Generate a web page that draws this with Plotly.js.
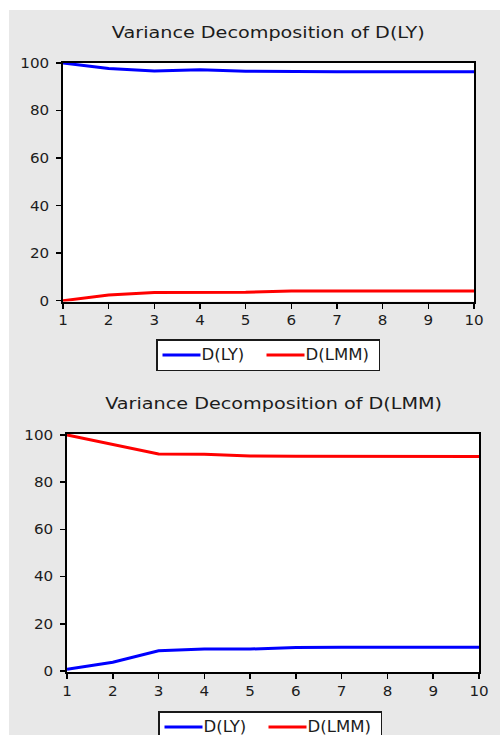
<!DOCTYPE html>
<html>
<head>
<meta charset="utf-8">
<script src="https://cdn.plot.ly/plotly-3.0.1.min.js"></script>
<style>
  html, body { margin: 0; padding: 0; background: #ffffff; }
  #bg { position: absolute; left: 9px; top: 10px; width: 491px; height: 725px; background: #e8e8e8; }
  #chart { position: absolute; left: 0; top: 0; width: 500px; height: 735px; }
  #chart .legendtext, #chart .legend2text {
    transform-box: fill-box;
    transform-origin: 0 50%;
    transform: translate(-4px, -1px) scale(1.38, 1.3);
  }
</style>
</head>
<body>
<div id="bg"></div>
<div id="chart"></div>
<script>
// Periods
var periods = [1, 2, 3, 4, 5, 6, 7, 8, 9, 10];
var xTickLabels = ["1", "2", "3", "4", "5", "6", "7", "8", "9", "10"];
var yTickVals = [0, 20, 40, 60, 80, 100];

// Variance Decomposition of D(LY)
var ly_shock_LY  = [100, 97.7, 96.6, 97.2, 96.5, 96.3, 96.3, 96.3, 96.3, 96.3];
var ly_shock_LMM = [0, 2.4, 3.4, 3.4, 3.5, 4.1, 4.1, 4.1, 4.1, 4.1];

// Variance Decomposition of D(LMM)
var lmm_shock_LY  = [0.7, 3.7, 8.6, 9.3, 9.3, 10.0, 10.1, 10.1, 10.1, 10.1];
var lmm_shock_LMM = [100, 95.8, 91.9, 91.8, 91.1, 91.0, 91.0, 91.0, 90.9, 90.9];

var seriesNames = ["D(LY)", "D(LMM)"];
var titles = ["Variance Decomposition of D(LY)", "Variance Decomposition of D(LMM)"];

var BLUE = "#0000ff", RED = "#ff0000";
var W = 500, H = 735;
var FONT = "DejaVu Sans, Verdana, sans-serif";
var TXT = "#1c1c1c";

var traces = [
  {x: periods, y: ly_shock_LY, name: seriesNames[0], type: "scatter", mode: "lines",
   line: {color: BLUE, width: 3}, xaxis: "x", yaxis: "y", legend: "legend", legendwidth: 51},
  {x: periods, y: ly_shock_LMM, name: seriesNames[1], type: "scatter", mode: "lines",
   line: {color: RED, width: 3}, xaxis: "x", yaxis: "y", legend: "legend", legendwidth: 64},
  {x: periods, y: lmm_shock_LY, name: seriesNames[0], type: "scatter", mode: "lines",
   line: {color: BLUE, width: 3}, xaxis: "x2", yaxis: "y2", legend: "legend2", legendwidth: 51},
  {x: periods, y: lmm_shock_LMM, name: seriesNames[1], type: "scatter", mode: "lines",
   line: {color: RED, width: 3}, xaxis: "x2", yaxis: "y2", legend: "legend2", legendwidth: 64}
];

var tickFont = {family: FONT, size: 14, color: TXT};

function xAxis(domain, anchor) {
  return {
    domain: domain, anchor: anchor, range: [1, 10],
    tickmode: "array", tickvals: periods, ticktext: xTickLabels,
    ticks: "outside", ticklen: 5, tickwidth: 1.5, tickcolor: "#000",
    showline: true, linecolor: "#000", linewidth: 2, mirror: true,
    showgrid: false, zeroline: false, tickfont: tickFont, ticklabelstandoff: 0,
    fixedrange: true
  };
}
function yAxis(domain, anchor, range) {
  return {
    domain: domain, anchor: anchor, range: range,
    tickmode: "array", tickvals: yTickVals,
    ticks: "outside", ticklen: 5, tickwidth: 1.5, tickcolor: "#000",
    showline: true, linecolor: "#000", linewidth: 2, mirror: true,
    showgrid: false, zeroline: false, tickfont: tickFont, ticklabelstandoff: 4,
    fixedrange: true
  };
}

var legendCommon = {
  orientation: "h", xanchor: "left", yanchor: "top",
  bgcolor: "#ffffff", bordercolor: "#1a1a1a", borderwidth: 1.5,
  font: {family: FONT, size: 12, color: TXT},
  itemwidth: 38, entrywidthmode: "pixels",
  tracegroupgap: 0, itemclick: false, itemdoubleclick: false
};

var layout = {
  width: W, height: H,
  margin: {l: 0, r: 0, t: 0, b: 0, autoexpand: false},
  paper_bgcolor: "rgba(0,0,0,0)",
  plot_bgcolor: "#ffffff",
  showlegend: true,
  xaxis: xAxis([63 / W, 474 / W], "y"),
  yaxis: yAxis([1 - 301.5 / H, 1 - 63 / H], "x", [-0.34, 100]),
  xaxis2: xAxis([67 / W, 479 / W], "y2"),
  yaxis2: yAxis([1 - 672.3 / H, 1 - 434 / H], "x2", [-0.55, 100.4]),
  legend: Object.assign({x: 156 / W, y: 1 - 339 / H}, legendCommon),
  legend2: Object.assign({x: 158 / W, y: 1 - 711 / H}, legendCommon),
  annotations: [
    {text: titles[0], xref: "paper", yref: "paper", x: 268.5 / W, y: 1 - 33 / H,
     xanchor: "center", yanchor: "middle", showarrow: false,
     font: {family: FONT, size: 15, color: TXT}},
    {text: titles[1], xref: "paper", yref: "paper", x: 273 / W, y: 1 - 404 / H,
     xanchor: "center", yanchor: "middle", showarrow: false,
     font: {family: FONT, size: 15, color: TXT}}
  ]
};

// The reference glyphs are wide; stretch rendered text about its anchor point (once per node).
function widen(selector, sx) {
  document.querySelectorAll(selector).forEach(function (t) {
    if (t.getAttribute("data-widened") === "1") return;
    var bb = t.getBBox();
    var anchor = t.getAttribute("text-anchor") || "start";
    var cx = anchor === "middle" ? bb.x + bb.width / 2 : (anchor === "end" ? bb.x + bb.width : bb.x);
    var tr = t.getAttribute("transform") || "";
    t.setAttribute("transform", tr + " translate(" + cx + ",0) scale(" + sx + ",1) translate(" + (-cx) + ",0)");
    t.setAttribute("data-widened", "1");
  });
}
function widenAll() {
  widen("#chart .annotation-text", 1.28);
  widen("#chart .xtick text, #chart .ytick text, #chart .x2tick text, #chart .y2tick text", 1.08);
}

var gd = document.getElementById("chart");
Plotly.newPlot(gd, traces, layout, {displayModeBar: false, staticPlot: true}).then(function () {
  widenAll();
  gd.on("plotly_afterplot", widenAll);
  requestAnimationFrame(widenAll);
  [30, 120, 400].forEach(function (ms) { setTimeout(widenAll, ms); });
});
</script>
</body>
</html>
